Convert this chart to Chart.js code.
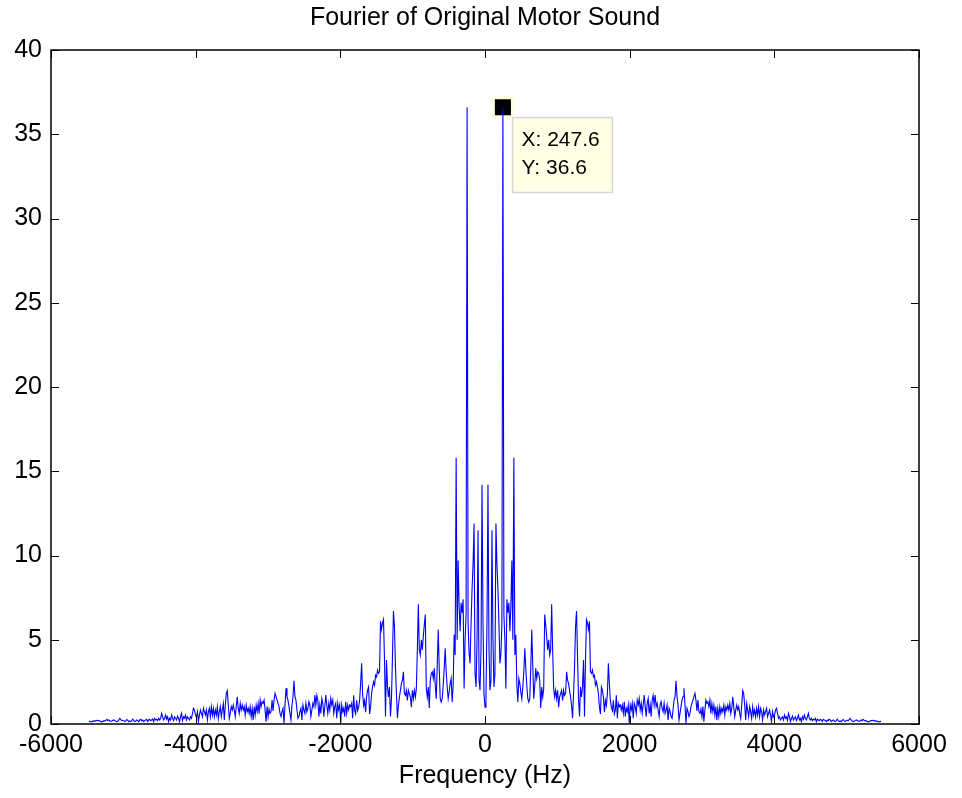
<!DOCTYPE html>
<html>
<head>
<meta charset="utf-8">
<title>Fourier of Original Motor Sound</title>
<script src="https://cdn.jsdelivr.net/npm/chart.js@4.4.1/dist/chart.umd.min.js"></script>
<style>
  html, body { margin: 0; padding: 0; background: #ffffff; }
  canvas { display: block; }
</style>
</head>
<body>
<canvas id="fft" width="962" height="798"></canvas>
<script>
// FFT bin spacing (Hz) of the motor recording
const binHz = 13.7556;

// |X(f)| for f = 0, binHz, 2*binHz, ... (positive-frequency half)
const magnitudePositive = [
  1.0, 1.8, 6.0, 14.2, 4.5, 2.0, 2.6, 11.5, 5.0, 2.2,
  3.0, 11.9, 9.5, 8.0, 6.0, 3.6, 4.2, 6.0, 36.6, 6.5,
  5.0, 2.1, 7.4, 6.6, 7.2, 5.5, 7.0, 9.7, 5.0, 15.8,
  4.1, 5.3, 2.3, 1.3, 2.7, 2.4, 1.9, 1.5, 2.2, 3.1,
  4.5, 3.3, 2.3, 1.5, 1.3, 1.5, 3.3, 5.6, 3.5, 1.5,
  2.3, 3.3, 2.7, 3.1, 3.0, 2.6, 0.95, 2.2, 1.6, 2.1,
  6.5, 5.9, 5.2, 4.4, 5.0, 4.1, 4.4, 7.1, 4.4, 2.1,
  1.6, 2.0, 1.5, 2.0, 1.0, 1.6, 1.8, 2.0, 1.4, 2.0,
  1.7, 1.8, 3.1, 2.6, 2.4, 2.0, 1.6, 1.1, 0.35, 1.8,
  3.4, 5.8, 6.7, 4.0, 1.5, 0.45, 2.2, 1.6, 2.2, 3.8,
  0.45, 3.8, 6.2, 6.0, 5.6, 6.1, 3.1, 3.0, 3.2, 2.8,
  2.9, 2.3, 2.5, 2.2, 1.8, 1.0, 0.6, 2.2, 2.0, 1.6,
  0.7, 1.4, 1.1, 1.8, 3.6, 2.4, 1.4, 1.0, 0.8, 1.4,
  0.6, 0.8, 1.7, 0.35, 1.23, 1.03, 1.13, 0.83, 1.13, 0.63,
  1.32, 0.44, 0.93, 0.73, 1.13, 0.04, 1.13, 0.83, 1.23, 0.34,
  1.23, 1.03, 0.63, 1.42, 1.13, 1.52, 0.83, 1.23, 0.63, 1.13,
  1.72, 1.03, 0.44, 1.23, 1.52, 0.63, 1.13, 0.44, 1.42, 1.70,
  1.13, 1.72, 1.03, 1.23, 0.83, 0.44, 1.13, 1.32, 0.93, 0.73,
  1.23, 0.63, 0.83, 1.13, 0.24, 0.93, 0.73, 0.44, 0.34, 0.83,
  1.42, 1.62, 2.57, 1.62, 1.13, 0.24, 0.63, 1.03, 1.42, 1.62,
  2.12, 1.13, 0.04, 0.93, 0.73, 0.44, 0.63, 1.03, 1.22, 1.42,
  1.62, 1.82, 1.42, 0.78, 1.42, 0.73, 0.63, 0.88, 0.43, 1.03,
  0.14, 0.83, 1.42, 1.22, 1.32, 1.03, 1.42, 0.63, 1.22, 0.73,
  1.12, 0.53, 1.03, 0.24, 0.93, 0.43, 1.03, 0.63, 0.93, 0.73,
  1.12, 0.53, 1.03, 0.83, 1.12, 0.83, 1.22, 0.63, 0.93, 1.62,
  1.03, 0.43, 0.83, 1.12, 0.83, 1.03, 0.63, 0.33, 1.12, 1.98,
  1.82, 1.12, 0.24, 1.22, 0.83, 0.43, 1.03, 0.73, 0.33, 1.03,
  0.53, 0.83, 0.43, 0.93, 0.53, 1.03, 0.43, 0.93, 0.73, 0.24,
  0.83, 0.53, 0.73, 0.93, 0.43, 0.63, 0.83, 0.53, 0.14, 0.73,
  0.43, 0.53, 0.83, 0.93, 0.63, 0.34, 0.43, 0.24, 0.34, 0.43,
  0.24, 0.53, 0.34, 0.43, 0.20, 0.63, 0.43, 0.14, 0.34, 0.47,
  0.24, 0.34, 0.43, 0.20, 0.34, 0.53, 0.24, 0.34, 0.14, 0.43,
  0.28, 0.53, 0.34, 0.24, 0.43, 0.63, 0.34, 0.24, 0.34, 0.20,
  0.28, 0.24, 0.34, 0.14, 0.30, 0.24, 0.20, 0.28, 0.24, 0.14,
  0.28, 0.24, 0.20, 0.14, 0.24, 0.20, 0.28, 0.24, 0.14, 0.20,
  0.24, 0.18, 0.14, 0.20, 0.28, 0.20, 0.14, 0.18, 0.14, 0.22,
  0.27, 0.18, 0.14, 0.20, 0.22, 0.20, 0.26, 0.33, 0.24, 0.18,
  0.14, 0.16, 0.20, 0.24, 0.22, 0.18, 0.16, 0.18, 0.24, 0.20,
  0.28, 0.22, 0.18, 0.20, 0.16, 0.12, 0.14, 0.18, 0.20, 0.20,
  0.22, 0.18, 0.20, 0.16, 0.18, 0.14, 0.12, 0.16, 0.14
];

const xTickValues = [-6000, -4000, -2000, 0, 2000, 4000, 6000];
const yTickValues = [0, 5, 10, 15, 20, 25, 30, 35, 40];

// data cursor on the strongest component
const tipX = 247.6;
const tipY = 36.6;

// The spectrum of a real signal is symmetric: the negative-frequency half
// reuses the positive-half magnitudes.
const spectrum = [];
for (let i = magnitudePositive.length - 1; i > 0; i--) {
  spectrum.push({ x: -i * binHz, y: magnitudePositive[i] });
}
for (let i = 0; i < magnitudePositive.length; i++) {
  spectrum.push({ x: i * binHz, y: magnitudePositive[i] });
}

const FONT = '"Liberation Sans", Arial, Helvetica, sans-serif';
Chart.defaults.font.family = FONT;
Chart.defaults.color = '#000000';

// Box around the axes plus inward tick marks on all four sides
const axesBox = {
  id: 'axesBox',
  afterDatasetsDraw(chart) {
    const { ctx, chartArea: a, scales: { x, y } } = chart;
    const len = 8;
    ctx.save();
    ctx.strokeStyle = '#000000';
    ctx.lineWidth = 1;
    ctx.beginPath();
    x.ticks.forEach(t => {
      const px = Math.round(x.getPixelForValue(t.value)) + 0.5;
      ctx.moveTo(px, a.bottom); ctx.lineTo(px, a.bottom - len);
      ctx.moveTo(px, a.top); ctx.lineTo(px, a.top + len);
    });
    y.ticks.forEach(t => {
      const py = Math.round(y.getPixelForValue(t.value)) + 0.5;
      ctx.moveTo(a.left, py); ctx.lineTo(a.left + len, py);
      ctx.moveTo(a.right, py); ctx.lineTo(a.right - len, py);
    });
    ctx.stroke();
    ctx.lineWidth = 1.5;
    ctx.strokeRect(Math.round(a.left), Math.round(a.top),
                   Math.round(a.right - a.left), Math.round(a.bottom - a.top));
    ctx.restore();
  }
};

// Data-tip box next to the cursor marker
const dataTip = {
  id: 'dataTip',
  afterDraw(chart) {
    const { ctx, scales: { x, y } } = chart;
    const px = x.getPixelForValue(tipX);
    const py = y.getPixelForValue(tipY);
    const left = Math.round(px + 9) + 0.5;
    const top = Math.round(py + 10) + 0.5;
    const w = 100, h = 75;
    ctx.save();
    ctx.fillStyle = '#ffffe6';
    ctx.fillRect(left, top, w, h);
    ctx.strokeStyle = '#d6d6d6';
    ctx.lineWidth = 1.5;
    ctx.strokeRect(left, top, w, h);
    ctx.fillStyle = '#000000';
    ctx.font = '21px ' + FONT;
    ctx.textBaseline = 'middle';
    ctx.textAlign = 'left';
    ctx.fillText('X: ' + tipX.toFixed(1), left + 9, top + 23);
    ctx.fillText('Y: ' + tipY.toFixed(1), left + 9, top + 51);
    ctx.restore();
  }
};

new Chart(document.getElementById('fft'), {
  type: 'line',
  data: {
    datasets: [
      {
        data: spectrum,
        borderColor: '#0000ff',
        borderWidth: 1.1,
        pointRadius: 0,
        tension: 0,
        fill: false
      },
      {
        data: [{ x: tipX, y: tipY }],
        showLine: false,
        pointStyle: 'rect',
        pointRadius: 13.5,
        backgroundColor: '#000000',
        borderColor: '#ffffe0',
        borderWidth: 3,
        clip: false
      }
    ]
  },
  options: {
    responsive: false,
    animation: false,
    devicePixelRatio: 1,
    events: [],
    layout: { padding: { left: 0, right: 43, top: 0, bottom: 0 } },
    plugins: {
      legend: { display: false },
      tooltip: { enabled: false },
      title: { display: false }
    },
    scales: {
      x: {
        type: 'linear',
        position: 'bottom',
        min: -6000,
        max: 6000,
        afterBuildTicks: s => { s.ticks = xTickValues.map(v => ({ value: v })); },
        afterFit: s => { s.height = 74; },
        grid: { display: false, drawTicks: false },
        border: { display: false },
        ticks: {
          font: { family: FONT, size: 25 },
          color: '#000000',
          padding: 6,
          maxRotation: 0,
          autoSkip: false,
          callback: v => String(v)
        },
        title: {
          display: true,
          text: 'Frequency (Hz)',
          color: '#000000',
          font: { family: FONT, size: 25 },
          padding: { top: 0, bottom: 7 }
        }
      },
      // top axis carries the plot title, centred over the axes
      xTop: {
        type: 'linear',
        position: 'top',
        min: -6000,
        max: 6000,
        afterFit: s => { s.height = 50; },
        grid: { display: false, drawTicks: false },
        border: { display: false },
        ticks: { display: false },
        title: {
          display: true,
          text: 'Fourier of Original Motor Sound',
          color: '#000000',
          font: { family: FONT, size: 25 },
          padding: { top: 3, bottom: 0 }
        }
      },
      y: {
        type: 'linear',
        min: 0,
        max: 40,
        afterBuildTicks: s => { s.ticks = yTickValues.map(v => ({ value: v })); },
        afterFit: s => { s.width = 51; },
        grid: { display: false, drawTicks: false },
        border: { display: false },
        ticks: {
          font: { family: FONT, size: 25 },
          color: '#000000',
          padding: 9,
          autoSkip: false,
          callback: v => String(v)
        }
      }
    }
  },
  plugins: [axesBox, dataTip]
});
</script>
</body>
</html>
